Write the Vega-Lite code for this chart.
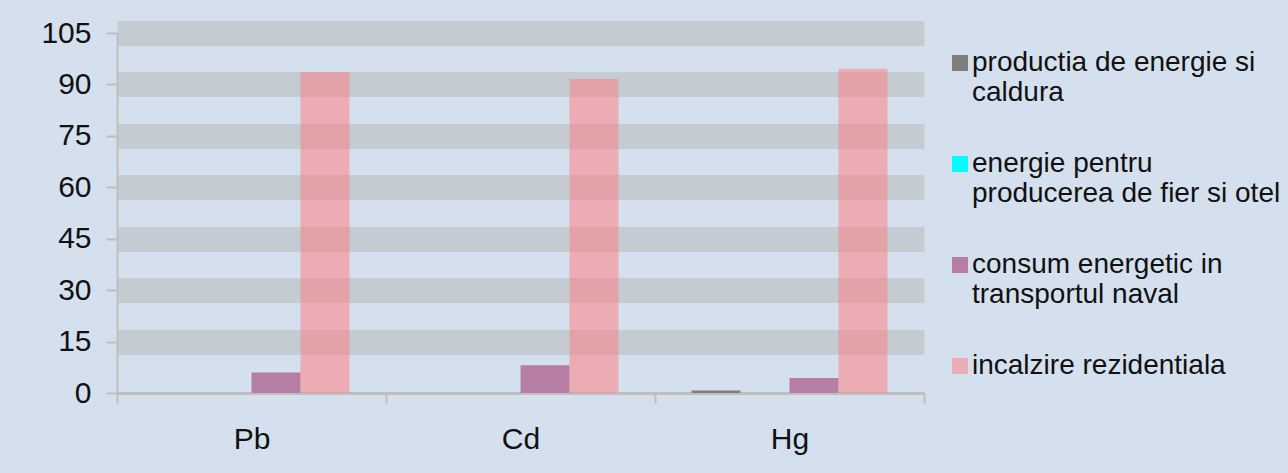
{
  "$schema": "https://vega.github.io/schema/vega-lite/v6.json",
  "width": 807,
  "height": 360,
  "autosize": {"type": "none"},
  "padding": {"left": 117, "top": 33, "right": 364, "bottom": 80},
  "background": "#d5e0ee",
  "data": {
    "values": [
      {"metal": "Pb", "sursa": "productia de energie si caldura", "valoare": 0},
      {"metal": "Pb", "sursa": "energie pentru producerea de fier si otel", "valoare": 0},
      {"metal": "Pb", "sursa": "consum energetic in transportul naval", "valoare": 6.0},
      {"metal": "Pb", "sursa": "incalzire rezidentiala", "valoare": 93.6},
      {"metal": "Cd", "sursa": "productia de energie si caldura", "valoare": 0},
      {"metal": "Cd", "sursa": "energie pentru producerea de fier si otel", "valoare": 0},
      {"metal": "Cd", "sursa": "consum energetic in transportul naval", "valoare": 8.1},
      {"metal": "Cd", "sursa": "incalzire rezidentiala", "valoare": 91.6},
      {"metal": "Hg", "sursa": "productia de energie si caldura", "valoare": 0.7},
      {"metal": "Hg", "sursa": "energie pentru producerea de fier si otel", "valoare": 0},
      {"metal": "Hg", "sursa": "consum energetic in transportul naval", "valoare": 4.4},
      {"metal": "Hg", "sursa": "incalzire rezidentiala", "valoare": 94.6}
    ]
  },
  "mark": {"type": "bar", "strokeWidth": 0},
  "encoding": {
    "x": {
      "field": "metal",
      "type": "nominal",
      "sort": ["Pb", "Cd", "Hg"],
      "scale": {"paddingInner": 0, "paddingOuter": 0},
      "axis": {
        "title": null,
        "labelAngle": 0,
        "labelFontSize": 30,
        "labelColor": "#111111",
        "labelPadding": 21,
        "tickBand": "extent",
        "tickSize": 10,
        "tickWidth": 2,
        "tickColor": "#bfbfbf",
        "domainColor": "#bfbfbf",
        "domainWidth": 3
      }
    },
    "xOffset": {
      "field": "sursa",
      "type": "nominal",
      "sort": [
        "productia de energie si caldura",
        "energie pentru producerea de fier si otel",
        "consum energetic in transportul naval",
        "incalzire rezidentiala"
      ],
      "scale": {"paddingInner": 0, "paddingOuter": 0.745}
    },
    "y": {
      "field": "valoare",
      "type": "quantitative",
      "scale": {"domain": [0, 105], "nice": false},
      "axis": {
        "title": null,
        "values": [0, 15, 30, 45, 60, 75, 90, 105],
        "labelFontSize": 30,
        "labelColor": "#111111",
        "labelPadding": 15,
        "tickSize": 11,
        "tickWidth": 2,
        "tickColor": "#bfbfbf",
        "domainColor": "#bfbfbf",
        "domainWidth": 2,
        "grid": true,
        "gridWidth": 25,
        "gridColor": {
          "condition": {"test": "datum.value === 0", "value": "transparent"},
          "value": "#c4cbd1"
        }
      }
    },
    "color": {
      "field": "sursa",
      "type": "nominal",
      "scale": {
        "domain": [
          "productia de energie si caldura",
          "energie pentru producerea de fier si otel",
          "consum energetic in transportul naval",
          "incalzire rezidentiala"
        ],
        "range": ["#7f7f7f", "#00ffff", "#b57ea2", "rgba(255,124,128,0.52)"]
      },
      "legend": {
        "title": null,
        "orient": "none",
        "legendX": 829,
        "legendY": 16,
        "padding": 0,
        "symbolType": "square",
        "symbolSize": 256,
        "symbolStrokeWidth": 0,
        "labelFontSize": 28,
        "labelColor": "#111111",
        "labelOffset": -2,
        "labelLimit": 400,
        "labelBaseline": "top",
        "labelLineHeight": 34,
        "rowPadding": 43,
        "labelExpr": "datum.label === 'productia de energie si caldura' ? ['productia de energie si', 'caldura'] : datum.label === 'energie pentru producerea de fier si otel' ? ['energie pentru', 'producerea de fier si otel'] : datum.label === 'consum energetic in transportul naval' ? ['consum energetic in', 'transportul naval'] : datum.label",
        "encode": {"labels": {"update": {"dy": {"value": -14}}}}
      }
    }
  },
  "config": {
    "font": "Liberation Sans",
    "view": {"stroke": null}
  }
}
